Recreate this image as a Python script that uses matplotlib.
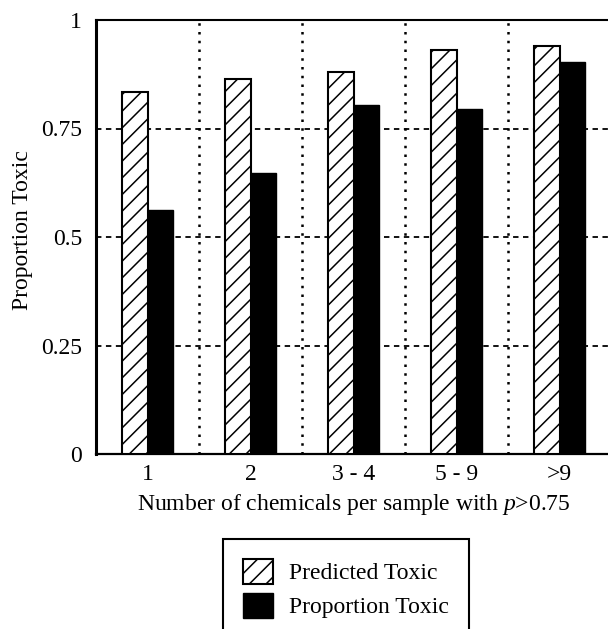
import matplotlib
matplotlib.use("Agg")
import matplotlib.pyplot as plt
import numpy as np

# Proportion of samples predicted / observed toxic, grouped by number of chemicals
categories = ["1", "2", "3 - 4", "5 - 9", ">9"]
predicted_toxic = [0.833, 0.863, 0.881, 0.931, 0.941]
proportion_toxic = [0.562, 0.647, 0.804, 0.795, 0.904]

plt.rcParams["font.family"] = "Liberation Serif"
plt.rcParams["font.size"] = 17
plt.rcParams["mathtext.fontset"] = "custom"
plt.rcParams["mathtext.it"] = "Liberation Serif:italic"
plt.rcParams["mathtext.rm"] = "Liberation Serif"
plt.rcParams["hatch.linewidth"] = 1.1

fig = plt.figure(figsize=(6.08, 6.29), dpi=100)
ax = fig.add_axes([96 / 608, 175 / 629, 515 / 608, 434 / 629])

x = np.arange(len(categories))
width = 0.245

ax.bar(x - width / 2, predicted_toxic, width, color="white", edgecolor="black",
       hatch="//", linewidth=1.5, label="Predicted Toxic", zorder=3)
ax.bar(x + width / 2, proportion_toxic, width, color="black", edgecolor="black",
       linewidth=1.0, label="Proportion Toxic", zorder=3)

# dashed horizontal grid, dotted separators between groups
for yv in [0.25, 0.5, 0.75]:
    ax.axhline(yv, color="black", linestyle=(0, (3, 2.5)), linewidth=1.3, zorder=1)
for xv in np.arange(0.5, len(categories), 1.0):
    ax.axvline(xv, color="black", linestyle=(0, (1, 2.5)), linewidth=1.8, zorder=1)

ax.set_xlim(-0.5, len(categories) - 0.5)
ax.set_ylim(0, 1)
ax.set_yticks([0, 0.25, 0.5, 0.75, 1])
ax.set_yticklabels(["0", "0.25", "0.5", "0.75", "1"])
ax.set_xticks(x)
ax.set_xticklabels(categories)
ax.tick_params(axis="x", length=0, pad=7)
ax.tick_params(axis="y", length=0, pad=10)

ax.spines["left"].set_linewidth(2.2)
ax.spines["bottom"].set_linewidth(1.6)
ax.spines["top"].set_linewidth(1.5)
ax.spines["right"].set_visible(False)

ax.set_ylabel("Proportion Toxic")
ax.yaxis.set_label_coords(-0.122, 0.515)
ax.set_xlabel("Number of chemicals per sample with $\\mathit{p}$>0.75", labelpad=5)

legend = fig.legend(loc="upper center", bbox_to_anchor=(346 / 608, 1 - 539 / 629),
                    fancybox=False, edgecolor="black", framealpha=1,
                    handlelength=1.27, handleheight=1.25, handletextpad=0.7,
                    labelspacing=0.35, borderpad=0.85, borderaxespad=0)
legend.get_frame().set_linewidth(1.5)

fig.savefig("out.png", dpi=100)
